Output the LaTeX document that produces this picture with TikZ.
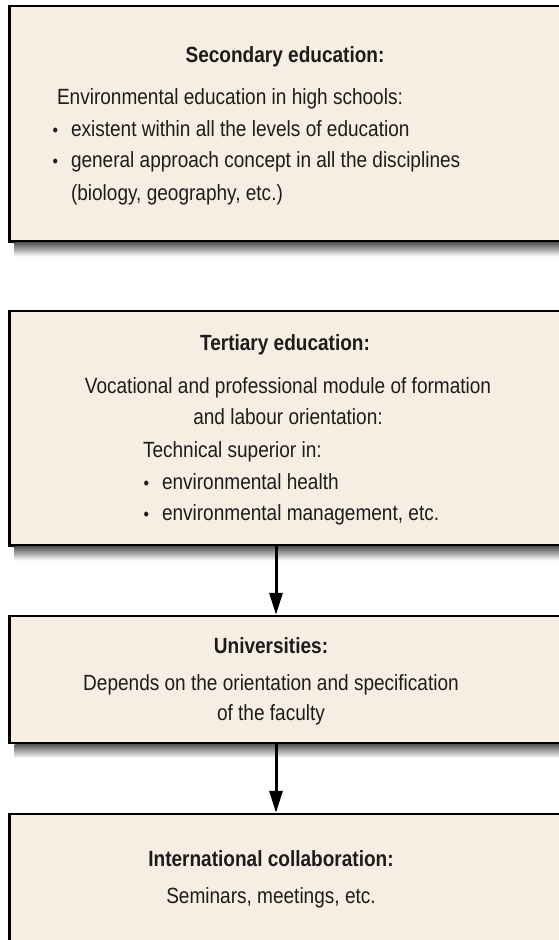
\documentclass[tikz,border=0pt]{standalone}
\usepackage{fontspec}
\setmainfont{Liberation Sans}[FakeStretch=0.865]
\usetikzlibrary{arrows.meta}
\definecolor{boxfill}{HTML}{F7EEE3}
\definecolor{ink}{HTML}{1C1C1C}
\newcommand{\bulitem}{\llap{{\fontsize{18}{18}\selectfont •}\hspace{13pt}}}
\begin{document}
\begin{tikzpicture}[x=1pt,y=-1pt,
  box/.style={draw=black,fill=boxfill,line width=2.5pt,inner sep=0pt,outer sep=0pt,
    anchor=north west,minimum width=620pt},
  txt/.style={inner sep=0pt,outer sep=0pt,text=ink,font=\fontsize{22}{26}\selectfont},
  head/.style={txt,font=\fontsize{22}{26}\selectfont\bfseries,anchor=base},
  cline/.style={txt,anchor=base},
  lline/.style={txt,anchor=base west},
  arr/.style={line width=3pt,-{Triangle[length=22pt,width=13pt]},shorten >=1.2pt},
  shad/.style={top color=black!65,bottom color=white}
]
\useasboundingbox (0,0) rectangle (559,940);
\clip (0,0) rectangle (559,940);
\fill[white] (0,0) rectangle (559,940);

% boxes
\node[box,minimum height=235.5pt] (b1) at (9.5,6) {};
\node[box,minimum height=234.5pt] (b2) at (9.5,311) {};
\node[box,minimum height=127pt] (b3) at (9.5,616) {};
\node[box,minimum height=160pt] (b4) at (9.5,814) {};

% shadows
\shade[shad] ([xshift=5pt,yshift=-1.3pt]b1.south west) rectangle ([yshift=-15pt]b1.south east);
\shade[shad] ([xshift=5pt,yshift=-1.3pt]b2.south west) rectangle ([yshift=-15pt]b2.south east);
\shade[shad] ([xshift=5pt,yshift=-1.3pt]b3.south west) rectangle ([yshift=-15pt]b3.south east);

% box 1 text
\node[head] (h1) at (285,62) {Secondary education:};
\node[lline] (t1a) at (57,104) {Environmental education in high schools:};
\node[lline] (t1b) at (71,136) {\bulitem existent within all the levels of education};
\node[lline] (t1c) at (71,167) {\bulitem general approach concept in all the disciplines};
\node[lline] (t1d) at (71,200) {(biology, geography, etc.)};

% box 2 text
\node[head] (h2) at (285,350) {Tertiary education:};
\node[cline] (t2a) at (288,393) {Vocational and professional module of formation};
\node[cline] (t2b) at (288,424) {and labour orientation:};
\node[lline] (t2c) at (143,457) {Technical superior in:};
\node[lline] (t2d) at (162,489) {\bulitem environmental health};
\node[lline] (t2e) at (162,520) {\bulitem environmental management, etc.};

% box 3 text
\node[head] (h3) at (271,653) {Universities:};
\node[cline] (t3a) at (271,690) {Depends on the orientation and specification};
\node[cline] (t3b) at (271,720) {of the faculty};

% box 4 text
\node[head] (h4) at (271,866) {International collaboration:};
\node[cline] (t4a) at (271,903) {Seminars, meetings, etc.};

% arrows
\coordinate (ax) at (276,0);
\draw[arr] (b2.south -| ax) -- (b3.north -| ax);
\draw[arr] (b3.south -| ax) -- (b4.north -| ax);
\end{tikzpicture}
\end{document}
